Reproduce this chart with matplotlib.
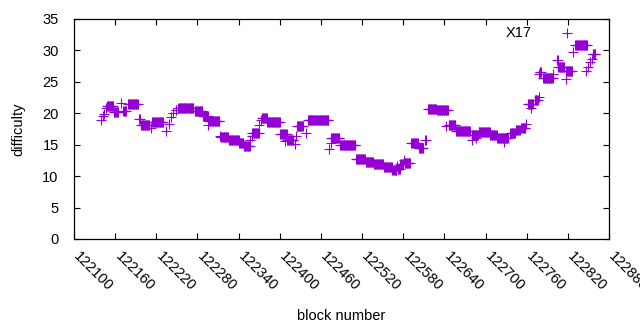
import matplotlib
matplotlib.use("Agg")
import matplotlib.pyplot as plt
import matplotlib.transforms as mtransforms
import numpy as np

# Runs of equal difficulty: (first block, last block, difficulty)
run_start = [122140, 122143, 122144, 122146, 122148, 122158, 122168, 122172, 122179, 122195,
             122198, 122212, 122214, 122234, 122238, 122242, 122245, 122248, 122252, 122276,
             122288, 122296, 122297, 122313, 122314, 122326, 122341, 122348, 122357, 122359,
             122360, 122370, 122373, 122374, 122382, 122401, 122408, 122411, 122422, 122424,
             122425, 122438, 122441, 122472, 122474, 122475, 122488, 122511, 122525, 122537,
             122552, 122564, 122571, 122572, 122576, 122581, 122582, 122592, 122603, 122612,
             122616, 122629, 122643, 122646, 122657, 122680, 122680, 122686, 122690, 122707,
             122717, 122727, 122736, 122744, 122752, 122759, 122762, 122767, 122772, 122778,
             122778, 122779, 122784, 122799, 122804, 122806, 122817, 122818, 122819, 122828,
             122831, 122847, 122850, 122852, 122855, 122856]
run_end = [122140, 122143, 122144, 122146, 122157, 122164, 122168, 122176, 122193, 122196,
           122210, 122212, 122230, 122234, 122238, 122242, 122245, 122249, 122274, 122287,
           122295, 122296, 122312, 122313, 122325, 122340, 122347, 122356, 122357, 122359,
           122369, 122370, 122373, 122381, 122400, 122410, 122408, 122420, 122422, 122424,
           122434, 122438, 122471, 122472, 122474, 122487, 122510, 122524, 122536, 122551,
           122563, 122570, 122571, 122575, 122580, 122581, 122590, 122601, 122609, 122613,
           122628, 122645, 122643, 122656, 122677, 122680, 122689, 122686, 122706, 122716,
           122733, 122727, 122743, 122750, 122758, 122759, 122769, 122767, 122776, 122778,
           122778, 122781, 122798, 122799, 122805, 122815, 122817, 122826, 122819, 122828,
           122848, 122847, 122850, 122852, 122855, 122860]
run_diff = [18.9, 19.6, 19.9, 20.9, 21.2, 20.2, 21.7, 20.4, 21.4, 19.1,
            18.2, 17.7, 18.6, 17.2, 18.3, 19.4, 20.1, 20.6, 20.9, 20.4,
            19.6, 18.2, 18.8, 16.4, 16.2, 15.7, 15.3, 14.8, 15.7, 16.4,
            16.9, 18.2, 18.9, 19.2, 18.6, 16.7, 15.6, 15.8, 15.1, 16.4,
            18.0, 16.8, 18.9, 14.3, 15.2, 16.0, 14.9, 12.7, 12.2, 11.9,
            11.4, 10.9, 11.6, 11.2, 11.9, 12.5, 12.1, 15.3, 14.4, 15.7,
            20.7, 20.5, 17.9, 18.2, 17.2, 15.7, 16.6, 16.0, 17.1, 16.5,
            16.0, 15.5, 16.8, 17.4, 17.7, 18.3, 21.5, 20.8, 22.1, 22.6,
            26.2, 26.5, 25.6, 26.2, 28.4, 27.3, 25.4, 26.8, 32.7, 29.8,
            30.9, 26.8, 27.3, 28.1, 28.6, 29.4]

x_ticks = list(range(122100, 122881, 60))
y_ticks = list(range(0, 36, 5))
label_text = "X17"
label_x, label_y = 122749, 32.8

blocks = []
diffs = []
for s, e, d in zip(run_start, run_end, run_diff):
    for b in range(s, e + 1):
        blocks.append(b)
        diffs.append(d)

plt.rcParams['font.family'] = ['Liberation Sans', 'DejaVu Sans']
fig = plt.figure(figsize=(6.4, 3.3), dpi=100)
ax = fig.add_axes([74/640, 1 - 239/330, (609-74)/640, (239-19)/330])

ax.plot(blocks, diffs, linestyle='none', marker='+', markersize=6.5,
        markeredgewidth=0.8, color='#9400d3')

ax.set_xlim(122100, 122880)
ax.set_ylim(0, 35)
ax.set_xticks(x_ticks)
ax.set_yticks(y_ticks)
ax.set_xticklabels([str(t) for t in x_ticks], rotation=-45, ha='left', va='top',
                   rotation_mode='anchor', fontsize=10.5)
ax.set_yticklabels([str(t) for t in y_ticks], fontsize=10.5)
ax.tick_params(direction='in', length=4, width=0.8, top=True, right=True,
               colors='black')
ax.tick_params(axis='x', pad=7)
ax.tick_params(axis='y', pad=11)
for sp in ax.spines.values():
    sp.set_linewidth(0.9)

shift = mtransforms.ScaledTranslation(7/100, 0, fig.dpi_scale_trans)
for lbl in ax.get_xticklabels():
    lbl.set_transform(lbl.get_transform() + shift)

ax.set_xlabel("block number", fontsize=10.5, labelpad=11)
ax.set_ylabel("difficulty", fontsize=10.5, labelpad=12)
ax.text(label_x, label_y, label_text, ha='center', va='center', fontsize=10.5)

fig.savefig("out.png", dpi=100)
